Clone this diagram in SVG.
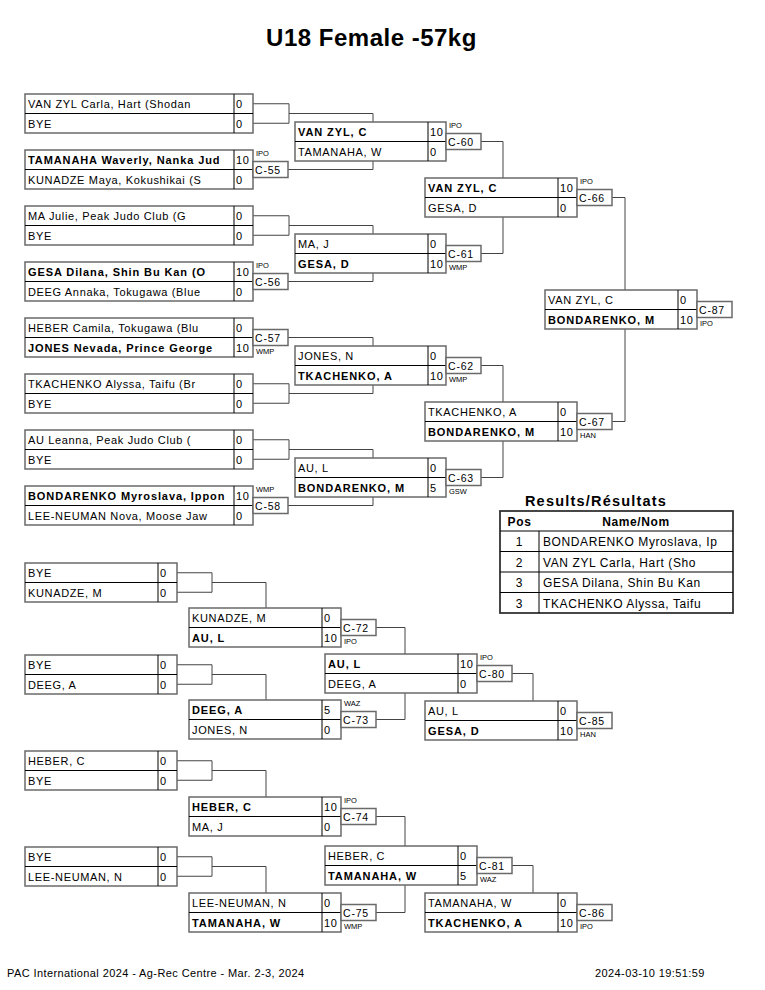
<svg xmlns="http://www.w3.org/2000/svg" width="765" height="990" viewBox="0 0 765 990">
<style>
.bx{fill:#fff;stroke:#6a6a6a;stroke-width:1.5}
.ln{stroke:#000;stroke-width:1}
.cn{fill:none;stroke:#444;stroke-width:1}
.mb{fill:#fff;stroke:#6a6a6a;stroke-width:1.5}
text{font-family:"Liberation Sans",Arial,sans-serif;fill:#000}
.t{font-size:11px;letter-spacing:0.65px}
.b{font-weight:bold;letter-spacing:0.9px}
.m{font-size:10.5px;letter-spacing:0.8px}
.r{font-size:7.5px}
.ti{font-size:24px;font-weight:bold;letter-spacing:0.5px}
.h{font-size:14.5px;font-weight:bold;letter-spacing:1.2px}
.th{font-size:12px;font-weight:bold;letter-spacing:0.6px}
.tr{font-size:12px;letter-spacing:0.6px}
.f{font-size:11px;letter-spacing:0.4px}
</style>
<rect width="765" height="990" fill="#fff"/>
<text class="ti" x="371.5" y="46" text-anchor="middle">U18 Female -57kg</text>

<g id="connectors">
<path class="cn" d="M253,103.75 H289 V123.25 H253 M289,113.5 H373 V122"/>
<path class="cn" d="M253,215.75 H289 V235.25 H253 M289,225.5 H373 V234"/>
<path class="cn" d="M253,383.75 H289 V403.25 H253 M289,393.5 H373 V385"/>
<path class="cn" d="M253,439.75 H289 V459.25 H253 M289,449.5 H373 V458"/>
<path class="cn" d="M288,169.5 H373 V161"/>
<path class="cn" d="M288,281.5 H373 V273"/>
<path class="cn" d="M288,337.5 H373 V346"/>
<path class="cn" d="M288,505.5 H373 V497"/>
<path class="cn" d="M481,141.5 H503 V178"/>
<path class="cn" d="M481,253.5 H503 V217"/>
<path class="cn" d="M481,365.5 H503 V402"/>
<path class="cn" d="M481,477.5 H503 V441"/>
<path class="cn" d="M612,197.5 H625 V290"/>
<path class="cn" d="M612,421.5 H625 V329"/>
<path class="cn" d="M177,572.75 H212 V592.25 H177 M212,582.5 H266 V608"/>
<path class="cn" d="M177,664.75 H212 V684.25 H177 M212,674.5 H266 V700"/>
<path class="cn" d="M177,760.75 H212 V780.25 H177 M212,770.5 H266 V797"/>
<path class="cn" d="M177,856.75 H212 V876.25 H177 M212,866.5 H266 V893"/>
<path class="cn" d="M376,627.5 H405 V654"/>
<path class="cn" d="M376,719.5 H405 V693"/>
<path class="cn" d="M376,816.5 H405 V846"/>
<path class="cn" d="M376,912.5 H405 V885"/>
<path class="cn" d="M512,673.5 H533 V701"/>
<path class="cn" d="M512,865.5 H533 V893"/>
</g>

<!-- Main bracket round 1 -->
<g id="r1a">
<rect class="bx" x="25" y="94" width="228" height="39"/><line class="ln" x1="25" y1="113.5" x2="253" y2="113.5"/><line class="ln" x1="234" y1="94" x2="234" y2="133"/>
<text class="t" x="28" y="108">VAN ZYL Carla, Hart (Shodan</text><text class="t" x="28" y="127.5">BYE</text>
<text class="t" x="236" y="108">0</text><text class="t" x="236" y="127.5">0</text>
</g>
<g id="r1b">
<rect class="bx" x="25" y="150" width="228" height="39"/><line class="ln" x1="25" y1="169.5" x2="253" y2="169.5"/><line class="ln" x1="234" y1="150" x2="234" y2="189"/>
<text class="t b" x="28" y="164">TAMANAHA Waverly, Nanka Jud</text><text class="t" x="28" y="183.5">KUNADZE Maya, Kokushikai (S</text>
<text class="t" x="236" y="164">10</text><text class="t" x="236" y="183.5">0</text>
<rect class="mb" x="253" y="161.5" width="35" height="16"/><text class="m" x="255" y="173.5">C-55</text><text class="r" x="256" y="155.5">IPO</text>
</g>
<g id="r1c">
<rect class="bx" x="25" y="206" width="228" height="39"/><line class="ln" x1="25" y1="225.5" x2="253" y2="225.5"/><line class="ln" x1="234" y1="206" x2="234" y2="245"/>
<text class="t" x="28" y="220">MA Julie, Peak Judo Club (G</text><text class="t" x="28" y="239.5">BYE</text>
<text class="t" x="236" y="220">0</text><text class="t" x="236" y="239.5">0</text>
</g>
<g id="r1d">
<rect class="bx" x="25" y="262" width="228" height="39"/><line class="ln" x1="25" y1="281.5" x2="253" y2="281.5"/><line class="ln" x1="234" y1="262" x2="234" y2="301"/>
<text class="t b" x="28" y="276">GESA Dilana, Shin Bu Kan (O</text><text class="t" x="28" y="295.5">DEEG Annaka, Tokugawa (Blue</text>
<text class="t" x="236" y="276">10</text><text class="t" x="236" y="295.5">0</text>
<rect class="mb" x="253" y="273.5" width="35" height="16"/><text class="m" x="255" y="285.5">C-56</text><text class="r" x="256" y="267.5">IPO</text>
</g>
<g id="r1e">
<rect class="bx" x="25" y="318" width="228" height="39"/><line class="ln" x1="25" y1="337.5" x2="253" y2="337.5"/><line class="ln" x1="234" y1="318" x2="234" y2="357"/>
<text class="t" x="28" y="332">HEBER Camila, Tokugawa (Blu</text><text class="t b" x="28" y="351.5">JONES Nevada, Prince George</text>
<text class="t" x="236" y="332">0</text><text class="t" x="236" y="351.5">10</text>
<rect class="mb" x="253" y="329.5" width="35" height="16"/><text class="m" x="255" y="341.5">C-57</text><text class="r" x="256" y="354">WMP</text>
</g>
<g id="r1f">
<rect class="bx" x="25" y="374" width="228" height="39"/><line class="ln" x1="25" y1="393.5" x2="253" y2="393.5"/><line class="ln" x1="234" y1="374" x2="234" y2="413"/>
<text class="t" x="28" y="388">TKACHENKO Alyssa, Taifu (Br</text><text class="t" x="28" y="407.5">BYE</text>
<text class="t" x="236" y="388">0</text><text class="t" x="236" y="407.5">0</text>
</g>
<g id="r1g">
<rect class="bx" x="25" y="430" width="228" height="39"/><line class="ln" x1="25" y1="449.5" x2="253" y2="449.5"/><line class="ln" x1="234" y1="430" x2="234" y2="469"/>
<text class="t" x="28" y="444">AU Leanna, Peak Judo Club (</text><text class="t" x="28" y="463.5">BYE</text>
<text class="t" x="236" y="444">0</text><text class="t" x="236" y="463.5">0</text>
</g>
<g id="r1h">
<rect class="bx" x="25" y="486" width="228" height="39"/><line class="ln" x1="25" y1="505.5" x2="253" y2="505.5"/><line class="ln" x1="234" y1="486" x2="234" y2="525"/>
<text class="t b" x="28" y="500">BONDARENKO Myroslava, Ippon</text><text class="t" x="28" y="519.5">LEE-NEUMAN Nova, Moose Jaw</text>
<text class="t" x="236" y="500">10</text><text class="t" x="236" y="519.5">0</text>
<rect class="mb" x="253" y="497.5" width="35" height="16"/><text class="m" x="255" y="509.5">C-58</text><text class="r" x="256" y="491.5">WMP</text>
</g>

<!-- Main bracket round 2 -->
<g id="r2a">
<rect class="bx" x="295" y="122" width="151" height="39"/><line class="ln" x1="295" y1="141.5" x2="446" y2="141.5"/><line class="ln" x1="428" y1="122" x2="428" y2="161"/>
<text class="t b" x="298" y="136">VAN ZYL, C</text><text class="t" x="298" y="155.5">TAMANAHA, W</text>
<text class="t" x="430" y="136">10</text><text class="t" x="430" y="155.5">0</text>
<rect class="mb" x="446" y="133.5" width="35" height="16"/><text class="m" x="448" y="145.5">C-60</text><text class="r" x="449" y="127.5">IPO</text>
</g>
<g id="r2b">
<rect class="bx" x="295" y="234" width="151" height="39"/><line class="ln" x1="295" y1="253.5" x2="446" y2="253.5"/><line class="ln" x1="428" y1="234" x2="428" y2="273"/>
<text class="t" x="298" y="248">MA, J</text><text class="t b" x="298" y="267.5">GESA, D</text>
<text class="t" x="430" y="248">0</text><text class="t" x="430" y="267.5">10</text>
<rect class="mb" x="446" y="245.5" width="35" height="16"/><text class="m" x="448" y="257.5">C-61</text><text class="r" x="449" y="270">WMP</text>
</g>
<g id="r2c">
<rect class="bx" x="295" y="346" width="151" height="39"/><line class="ln" x1="295" y1="365.5" x2="446" y2="365.5"/><line class="ln" x1="428" y1="346" x2="428" y2="385"/>
<text class="t" x="298" y="360">JONES, N</text><text class="t b" x="298" y="379.5">TKACHENKO, A</text>
<text class="t" x="430" y="360">0</text><text class="t" x="430" y="379.5">10</text>
<rect class="mb" x="446" y="357.5" width="35" height="16"/><text class="m" x="448" y="369.5">C-62</text><text class="r" x="449" y="382">WMP</text>
</g>
<g id="r2d">
<rect class="bx" x="295" y="458" width="151" height="39"/><line class="ln" x1="295" y1="477.5" x2="446" y2="477.5"/><line class="ln" x1="428" y1="458" x2="428" y2="497"/>
<text class="t" x="298" y="472">AU, L</text><text class="t b" x="298" y="491.5">BONDARENKO, M</text>
<text class="t" x="430" y="472">0</text><text class="t" x="430" y="491.5">5</text>
<rect class="mb" x="446" y="469.5" width="35" height="16"/><text class="m" x="448" y="481.5">C-63</text><text class="r" x="449" y="494">GSW</text>
</g>

<!-- Main bracket round 3 -->
<g id="r3a">
<rect class="bx" x="425" y="178" width="152" height="39"/><line class="ln" x1="425" y1="197.5" x2="577" y2="197.5"/><line class="ln" x1="558" y1="178" x2="558" y2="217"/>
<text class="t b" x="428" y="192">VAN ZYL, C</text><text class="t" x="428" y="211.5">GESA, D</text>
<text class="t" x="560" y="192">10</text><text class="t" x="560" y="211.5">0</text>
<rect class="mb" x="577" y="189.5" width="35" height="16"/><text class="m" x="579" y="201.5">C-66</text><text class="r" x="580" y="183.5">IPO</text>
</g>
<g id="r3b">
<rect class="bx" x="425" y="402" width="152" height="39"/><line class="ln" x1="425" y1="421.5" x2="577" y2="421.5"/><line class="ln" x1="558" y1="402" x2="558" y2="441"/>
<text class="t" x="428" y="416">TKACHENKO, A</text><text class="t b" x="428" y="435.5">BONDARENKO, M</text>
<text class="t" x="560" y="416">0</text><text class="t" x="560" y="435.5">10</text>
<rect class="mb" x="577" y="413.5" width="35" height="16"/><text class="m" x="579" y="425.5">C-67</text><text class="r" x="580" y="438">HAN</text>
</g>

<!-- Final -->
<g id="final">
<rect class="bx" x="545" y="290" width="152" height="39"/><line class="ln" x1="545" y1="309.5" x2="697" y2="309.5"/><line class="ln" x1="678" y1="290" x2="678" y2="329"/>
<text class="t" x="548" y="304">VAN ZYL, C</text><text class="t b" x="548" y="323.5">BONDARENKO, M</text>
<text class="t" x="680" y="304">0</text><text class="t" x="680" y="323.5">10</text>
<rect class="mb" x="697" y="301.5" width="35" height="16"/><text class="m" x="699" y="313.5">C-87</text><text class="r" x="700" y="326">IPO</text>
</g>

<!-- Results table -->
<g id="results">
<text class="h" x="596" y="506" text-anchor="middle">Results/Résultats</text>
<rect x="500" y="511" width="233" height="102" fill="#fff" stroke="#333" stroke-width="1.8"/>
<line class="ln" x1="500" y1="531" x2="733" y2="531"/>
<line class="ln" x1="500" y1="551.5" x2="733" y2="551.5"/>
<line class="ln" x1="500" y1="572" x2="733" y2="572"/>
<line class="ln" x1="500" y1="592.5" x2="733" y2="592.5"/>
<line class="ln" x1="539" y1="531" x2="539" y2="613"/>
<text class="th" x="519.5" y="525.5" text-anchor="middle">Pos</text>
<text class="th" x="636" y="525.5" text-anchor="middle">Name/Nom</text>
<text class="tr" x="519.5" y="546" text-anchor="middle">1</text><text class="tr" x="543" y="546">BONDARENKO Myroslava, Ip</text>
<text class="tr" x="519.5" y="566.5" text-anchor="middle">2</text><text class="tr" x="543" y="566.5">VAN ZYL Carla, Hart (Sho</text>
<text class="tr" x="519.5" y="587" text-anchor="middle">3</text><text class="tr" x="543" y="587">GESA Dilana, Shin Bu Kan</text>
<text class="tr" x="519.5" y="607.5" text-anchor="middle">3</text><text class="tr" x="543" y="607.5">TKACHENKO Alyssa, Taifu</text>
</g>

<!-- Repechage round 1 -->
<g id="p1a">
<rect class="bx" x="25" y="563" width="152" height="39"/><line class="ln" x1="25" y1="582.5" x2="177" y2="582.5"/><line class="ln" x1="158" y1="563" x2="158" y2="602"/>
<text class="t" x="28" y="577">BYE</text><text class="t" x="28" y="596.5">KUNADZE, M</text>
<text class="t" x="160" y="577">0</text><text class="t" x="160" y="596.5">0</text>
</g>
<g id="p1b">
<rect class="bx" x="25" y="655" width="152" height="39"/><line class="ln" x1="25" y1="674.5" x2="177" y2="674.5"/><line class="ln" x1="158" y1="655" x2="158" y2="694"/>
<text class="t" x="28" y="669">BYE</text><text class="t" x="28" y="688.5">DEEG, A</text>
<text class="t" x="160" y="669">0</text><text class="t" x="160" y="688.5">0</text>
</g>
<g id="p1c">
<rect class="bx" x="25" y="751" width="152" height="39"/><line class="ln" x1="25" y1="770.5" x2="177" y2="770.5"/><line class="ln" x1="158" y1="751" x2="158" y2="790"/>
<text class="t" x="28" y="765">HEBER, C</text><text class="t" x="28" y="784.5">BYE</text>
<text class="t" x="160" y="765">0</text><text class="t" x="160" y="784.5">0</text>
</g>
<g id="p1d">
<rect class="bx" x="25" y="847" width="152" height="39"/><line class="ln" x1="25" y1="866.5" x2="177" y2="866.5"/><line class="ln" x1="158" y1="847" x2="158" y2="886"/>
<text class="t" x="28" y="861">BYE</text><text class="t" x="28" y="880.5">LEE-NEUMAN, N</text>
<text class="t" x="160" y="861">0</text><text class="t" x="160" y="880.5">0</text>
</g>

<!-- Repechage round 2 -->
<g id="p2a">
<rect class="bx" x="189" y="608" width="152" height="39"/><line class="ln" x1="189" y1="627.5" x2="341" y2="627.5"/><line class="ln" x1="322" y1="608" x2="322" y2="647"/>
<text class="t" x="192" y="622">KUNADZE, M</text><text class="t b" x="192" y="641.5">AU, L</text>
<text class="t" x="324" y="622">0</text><text class="t" x="324" y="641.5">10</text>
<rect class="mb" x="341" y="619.5" width="35" height="16"/><text class="m" x="343" y="631.5">C-72</text><text class="r" x="344" y="644">IPO</text>
</g>
<g id="p2b">
<rect class="bx" x="189" y="700" width="152" height="39"/><line class="ln" x1="189" y1="719.5" x2="341" y2="719.5"/><line class="ln" x1="322" y1="700" x2="322" y2="739"/>
<text class="t b" x="192" y="714">DEEG, A</text><text class="t" x="192" y="733.5">JONES, N</text>
<text class="t" x="324" y="714">5</text><text class="t" x="324" y="733.5">0</text>
<rect class="mb" x="341" y="711.5" width="35" height="16"/><text class="m" x="343" y="723.5">C-73</text><text class="r" x="344" y="705.5">WAZ</text>
</g>
<g id="p2c">
<rect class="bx" x="189" y="797" width="152" height="39"/><line class="ln" x1="189" y1="816.5" x2="341" y2="816.5"/><line class="ln" x1="322" y1="797" x2="322" y2="836"/>
<text class="t b" x="192" y="811">HEBER, C</text><text class="t" x="192" y="830.5">MA, J</text>
<text class="t" x="324" y="811">10</text><text class="t" x="324" y="830.5">0</text>
<rect class="mb" x="341" y="808.5" width="35" height="16"/><text class="m" x="343" y="820.5">C-74</text><text class="r" x="344" y="802.5">IPO</text>
</g>
<g id="p2d">
<rect class="bx" x="189" y="893" width="152" height="39"/><line class="ln" x1="189" y1="912.5" x2="341" y2="912.5"/><line class="ln" x1="322" y1="893" x2="322" y2="932"/>
<text class="t" x="192" y="907">LEE-NEUMAN, N</text><text class="t b" x="192" y="926.5">TAMANAHA, W</text>
<text class="t" x="324" y="907">0</text><text class="t" x="324" y="926.5">10</text>
<rect class="mb" x="341" y="904.5" width="35" height="16"/><text class="m" x="343" y="916.5">C-75</text><text class="r" x="344" y="929">WMP</text>
</g>

<!-- Repechage round 3 -->
<g id="p3a">
<rect class="bx" x="325" y="654" width="152" height="39"/><line class="ln" x1="325" y1="673.5" x2="477" y2="673.5"/><line class="ln" x1="458" y1="654" x2="458" y2="693"/>
<text class="t b" x="328" y="668">AU, L</text><text class="t" x="328" y="687.5">DEEG, A</text>
<text class="t" x="460" y="668">10</text><text class="t" x="460" y="687.5">0</text>
<rect class="mb" x="477" y="665.5" width="35" height="16"/><text class="m" x="479" y="677.5">C-80</text><text class="r" x="480" y="659.5">IPO</text>
</g>
<g id="p3b">
<rect class="bx" x="325" y="846" width="152" height="39"/><line class="ln" x1="325" y1="865.5" x2="477" y2="865.5"/><line class="ln" x1="458" y1="846" x2="458" y2="885"/>
<text class="t" x="328" y="860">HEBER, C</text><text class="t b" x="328" y="879.5">TAMANAHA, W</text>
<text class="t" x="460" y="860">0</text><text class="t" x="460" y="879.5">5</text>
<rect class="mb" x="477" y="857.5" width="35" height="16"/><text class="m" x="479" y="869.5">C-81</text><text class="r" x="480" y="882">WAZ</text>
</g>

<!-- Repechage round 4 -->
<g id="p4a">
<rect class="bx" x="425" y="701" width="152" height="39"/><line class="ln" x1="425" y1="720.5" x2="577" y2="720.5"/><line class="ln" x1="558" y1="701" x2="558" y2="740"/>
<text class="t" x="428" y="715">AU, L</text><text class="t b" x="428" y="734.5">GESA, D</text>
<text class="t" x="560" y="715">0</text><text class="t" x="560" y="734.5">10</text>
<rect class="mb" x="577" y="712.5" width="35" height="16"/><text class="m" x="579" y="724.5">C-85</text><text class="r" x="580" y="737">HAN</text>
</g>
<g id="p4b">
<rect class="bx" x="425" y="893" width="152" height="39"/><line class="ln" x1="425" y1="912.5" x2="577" y2="912.5"/><line class="ln" x1="558" y1="893" x2="558" y2="932"/>
<text class="t" x="428" y="907">TAMANAHA, W</text><text class="t b" x="428" y="926.5">TKACHENKO, A</text>
<text class="t" x="560" y="907">0</text><text class="t" x="560" y="926.5">10</text>
<rect class="mb" x="577" y="904.5" width="35" height="16"/><text class="m" x="579" y="916.5">C-86</text><text class="r" x="580" y="929">IPO</text>
</g>

<text class="f" x="7" y="977">PAC International 2024 - Ag-Rec Centre - Mar. 2-3, 2024</text>
<text class="f" x="595" y="977">2024-03-10 19:51:59</text>
</svg>
